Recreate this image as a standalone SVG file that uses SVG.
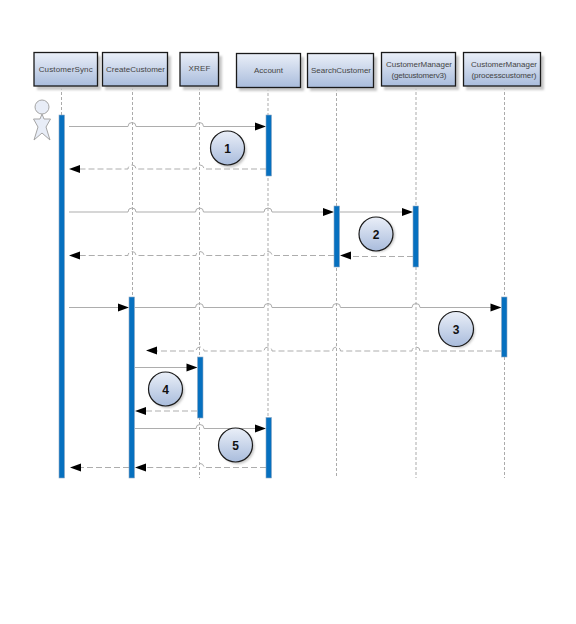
<svg xmlns="http://www.w3.org/2000/svg" width="576" height="624" viewBox="0 0 576 624">
<style>
text{font-family:"Liberation Sans",Arial,sans-serif;fill:#444;text-anchor:middle}
.t{font-size:8px}
.n{font-size:12px;font-weight:bold;fill:#111}
.box{fill:url(#g);stroke:#1a1a1a;stroke-width:1.3}
.sh{fill:#c8c8c8}
.life{fill:none;stroke:#ababab;stroke-width:1;stroke-dasharray:3 2}
.bar{fill:#0670bf;stroke:#8fa9c4;stroke-width:.6}
.m{fill:none;stroke:#adadad;stroke-width:1}
.r{fill:none;stroke:#adadad;stroke-width:1;stroke-dasharray:6 3}
.c{fill:url(#g);stroke:#1a1a1a;stroke-width:1.2}
.a{fill:#000}
</style>
<defs>
<linearGradient id="g" x1="0" y1="0" x2="0" y2="1"><stop offset="0" stop-color="#eaeff8"/><stop offset="1" stop-color="#a9bcdc"/></linearGradient>
<filter id="b" x="-20%" y="-20%" width="140%" height="140%"><feGaussianBlur stdDeviation="1"/></filter>
<polygon id="ar" class="a" points="0,0 -11,-4 -11,4"/>
<polygon id="al" class="a" points="0,0 11,-4 11,4"/>
</defs>
<g id="lifelines">
<path class="life" d="M61.5 87V115M132.500 87V478M199.500 87V478M268 88V478M336.500 88V478M416 87V478M504.500 87V478"/>
</g>
<g id="node-customersync"><rect class="sh" x="37" y="56" width="64" height="34" filter="url(#b)"/><rect class="box" x="34" y="52.500" width="63.500" height="33.500"/><text class="t" x="65.700" y="72" textLength="54">CustomerSync</text></g>
<g id="node-createcustomer"><rect class="sh" x="105" y="56" width="66" height="34" filter="url(#b)"/><rect class="box" x="102.500" y="52.500" width="65" height="33.500"/><text class="t" x="135.500" y="72" textLength="59">CreateCustomer</text></g>
<g id="node-xref"><rect class="sh" x="183" y="56" width="39" height="34" filter="url(#b)"/><rect class="box" x="180" y="52.500" width="38.500" height="33.500"/><text class="t" x="199.500" y="71" textLength="22">XREF</text></g>
<g id="node-account"><rect class="sh" x="239" y="57" width="65" height="34" filter="url(#b)"/><rect class="box" x="236.500" y="53.500" width="64" height="34"/><text class="t" x="268.500" y="73" textLength="29">Account</text></g>
<g id="node-searchcustomer"><rect class="sh" x="310" y="57" width="67" height="34" filter="url(#b)"/><rect class="box" x="307.500" y="53.500" width="66" height="34"/><text class="t" x="341" y="73" textLength="60">SearchCustomer</text></g>
<g id="node-customermanager1"><rect class="sh" x="384" y="56" width="75" height="34" filter="url(#b)"/><rect class="box" x="381.500" y="52.500" width="74" height="33.500"/><text class="t" x="419" y="67" textLength="66">CustomerManager</text><text class="t" x="419" y="78" textLength="55">(getcustomerv3)</text></g>
<g id="node-customermanager2"><rect class="sh" x="466" y="56" width="78" height="34" filter="url(#b)"/><rect class="box" x="463.500" y="52.500" width="77" height="33.500"/><text class="t" x="504" y="67" textLength="66">CustomerManager</text><text class="t" x="504" y="78" textLength="65">(processcustomer)</text></g>
<g id="actor"><circle cx="42" cy="107" r="7" fill="#e8edf7" stroke="#a5a5a5"/><path d="M42 114L40 119H33.500L38 127L34 140L42 133L50 140L46 127L50.500 119H44Z" fill="#e8edf7" stroke="#a5a5a5"/></g>
<g id="connectors">
<path class="m" d="M69 126.500H128a4 4 0 0 1 8 0H195.500a4 4 0 0 1 8 0H255"/>
<path class="r" d="M266 169H204a4 4 0 0 0 -8 0H136a4 4 0 0 0 -8 0H80"/>
<path class="m" d="M69 212H128a4 4 0 0 1 8 0H195.500a4 4 0 0 1 8 0H264a4 4 0 0 1 8 0H323M340 212H402"/>
<path class="r" d="M334 255.500H272a4 4 0 0 0 -8 0H204a4 4 0 0 0 -8 0H136a4 4 0 0 0 -8 0H80M413 256.500H350"/>
<path class="m" d="M69 307.500H118M135 307.500H195.500a4 4 0 0 1 8 0H264a4 4 0 0 1 8 0H332.500a4 4 0 0 1 8 0H412a4 4 0 0 1 8 0H491"/>
<path class="r" d="M501 351H420a4 4 0 0 0 -8 0H340.500a4 4 0 0 0 -8 0H272a4 4 0 0 0 -8 0H204a4 4 0 0 0 -8 0H157"/>
<path class="m" d="M135 367.500H187"/>
<path class="r" d="M197 411H146"/>
<path class="m" d="M135 428.500H196a4 4 0 0 1 8 0H255"/>
<path class="r" d="M266 467.500H204a4 4 0 0 0 -8 0H146M129 467.500H80"/>
<use href="#ar" x="266" y="126.500"/><use href="#al" x="69" y="169"/>
<use href="#ar" x="334" y="212"/><use href="#ar" x="413" y="212"/>
<use href="#al" x="340" y="255.500"/><use href="#al" x="69" y="255.500"/>
<use href="#ar" x="129" y="307.500"/><use href="#ar" x="501.500" y="307.500"/>
<use href="#al" x="146" y="350.500"/><use href="#ar" x="197.500" y="367.500"/>
<use href="#al" x="135" y="411"/><use href="#ar" x="266" y="428.500"/>
<use href="#al" x="135" y="467.500"/><use href="#al" x="70" y="467.500"/>
</g>
<g id="activations">
<rect class="bar" x="59" y="115" width="5.500" height="363"/>
<rect class="bar" x="266" y="115" width="5.500" height="61"/>
<rect class="bar" x="334" y="206" width="5.500" height="61"/>
<rect class="bar" x="413" y="206" width="5.500" height="61"/>
<rect class="bar" x="501.500" y="297" width="5.500" height="60"/>
<rect class="bar" x="129" y="297" width="5.500" height="181"/>
<rect class="bar" x="197.500" y="357" width="5.500" height="61"/>
<rect class="bar" x="266" y="417.500" width="5.500" height="60.500"/>
</g>
<g id="badge-1"><circle class="sh" cx="229.500" cy="150.500" r="17" filter="url(#b)"/><circle class="c" cx="227.500" cy="148" r="17"/><text class="n" x="227.500" y="152.500">1</text></g>
<g id="badge-2"><circle class="sh" cx="378" cy="235" r="17" filter="url(#b)"/><circle class="c" cx="376" cy="234" r="17"/><text class="n" x="376" y="238.500">2</text></g>
<g id="badge-3"><circle class="sh" cx="458" cy="331" r="17" filter="url(#b)"/><circle class="c" cx="456" cy="329" r="17.500"/><text class="n" x="456" y="333.500">3</text></g>
<g id="badge-4"><circle class="sh" cx="167.500" cy="391" r="17" filter="url(#b)"/><circle class="c" cx="165.500" cy="389" r="17"/><text class="n" x="165.500" y="393.500">4</text></g>
<g id="badge-5"><circle class="sh" cx="237.500" cy="447" r="17" filter="url(#b)"/><circle class="c" cx="235.500" cy="445" r="17"/><text class="n" x="235.500" y="449.500">5</text></g>
</svg>
